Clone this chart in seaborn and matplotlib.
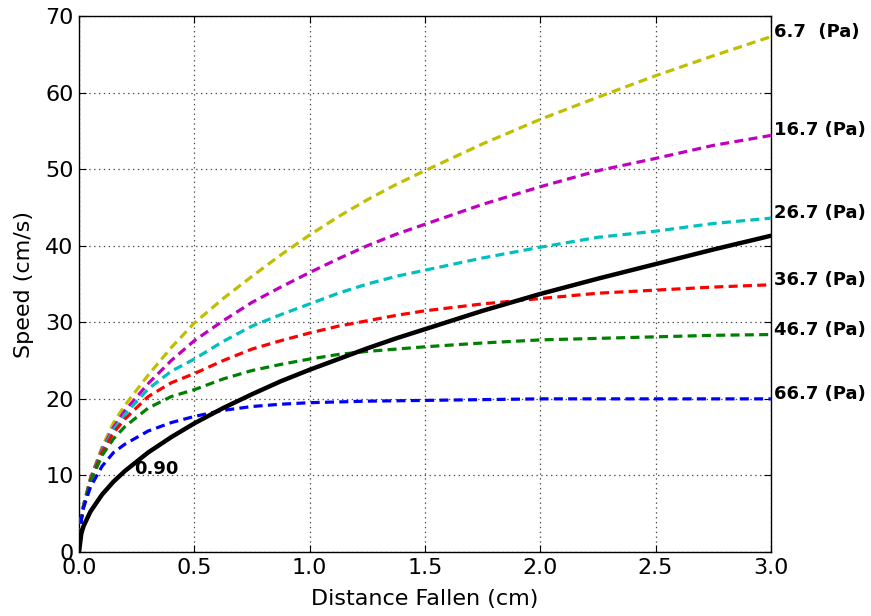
import matplotlib
matplotlib.use("Agg")
import matplotlib.pyplot as plt
import seaborn as sns
import pandas as pd
import numpy as np

# Distance fallen (cm)
distance = [0, 0.01, 0.02, 0.05, 0.1, 0.15, 0.2, 0.3, 0.4, 0.5, 0.625, 0.75, 0.875,
            1.0, 1.125, 1.25, 1.375, 1.5, 1.75, 2.0, 2.25, 2.5, 2.75, 3.0]

# Speeds (cm/s), one list per yield stress
speed_6_7 = [0, 4.4, 6.2, 9.7, 13.7, 16.9, 19.2, 23.1, 26.7, 29.9, 33.1, 36.0, 38.8,
             41.4, 43.8, 46.0, 48.0, 49.8, 53.3, 56.5, 59.4, 62.2, 64.8, 67.3]
speed_16_7 = [0, 4.3, 6.1, 9.6, 13.4, 16.3, 18.5, 22.0, 25.0, 27.6, 30.2, 32.6, 34.6,
              36.5, 38.3, 40.0, 41.5, 42.8, 45.4, 47.7, 49.8, 51.4, 53.1, 54.4]
speed_26_7 = [0, 4.3, 6.1, 9.5, 13.2, 16.0, 18.0, 21.3, 23.6, 25.2, 27.5, 29.5, 31.0,
              32.4, 33.8, 35.0, 36.0, 36.8, 38.4, 39.8, 41.1, 41.9, 42.9, 43.6]
speed_36_7 = [0, 4.3, 6.0, 9.4, 13.0, 15.6, 17.4, 20.3, 22.1, 23.3, 25.0, 26.5, 27.6,
              28.6, 29.5, 30.2, 30.9, 31.5, 32.4, 33.1, 33.8, 34.2, 34.6, 34.9]
speed_46_7 = [0, 4.3, 6.0, 9.2, 12.6, 14.8, 16.4, 18.8, 20.3, 21.2, 22.6, 23.7, 24.5,
              25.2, 25.8, 26.2, 26.5, 26.8, 27.3, 27.7, 27.9, 28.1, 28.3, 28.4]
speed_66_7 = [0, 4.2, 5.8, 8.5, 11.2, 13.0, 14.1, 15.8, 16.9, 17.7, 18.5, 19.0, 19.3,
              19.5, 19.6, 19.7, 19.75, 19.8, 19.9, 20.0, 20.0, 20.0, 20.0, 20.0]
speed_newtonian = [0, 2.4, 3.4, 5.3, 7.5, 9.2, 10.6, 13.0, 15.0, 16.8, 18.8, 20.6, 22.3,
                   23.8, 25.2, 26.6, 27.9, 29.1, 31.5, 33.7, 35.7, 37.6, 39.5, 41.3]

series_labels = ["6.7  (Pa)", "16.7 (Pa)", "26.7 (Pa)", "36.7 (Pa)", "46.7 (Pa)", "66.7 (Pa)"]
series_values = [speed_6_7, speed_16_7, speed_26_7, speed_36_7, speed_46_7, speed_66_7]
series_colors = [(0.75, 0.75, 0), (0.75, 0, 0.75), (0, 0.75, 0.75), (1, 0, 0),
                 (0, 0.5, 0), (0, 0, 1)]
black_label = "0.90"

plt.rcParams["lines.scale_dashes"] = False
plt.rcParams["lines.dashed_pattern"] = [6.5, 3.8]
plt.rcParams["font.family"] = ["DejaVu Sans"]

fig = plt.figure(figsize=(8.71, 6.16), dpi=100)
ax = fig.add_axes([0.0907, 0.1039, 0.885 - 0.0907, 0.974 - 0.1039])

rows = []
for lab, vals in zip(series_labels, series_values):
    for d, v in zip(distance, vals):
        rows.append({"distance": d, "speed": v, "series": lab})
df = pd.DataFrame(rows)

for lab, col in zip(series_labels, series_colors):
    sub = df[df["series"] == lab]
    sns.lineplot(data=sub, x="distance", y="speed", color=col, lw=2.3,
                 linestyle="--", ax=ax, legend=False, zorder=3)
    ax.text(3.012, sub["speed"].iloc[-1], lab, fontsize=13, fontweight="bold",
            ha="left", va="baseline", clip_on=False)

sns.lineplot(x=distance, y=speed_newtonian, color="k", lw=3.2, ax=ax,
             legend=False, zorder=4)
ax.text(0.24, 10.8, black_label, fontsize=13, fontweight="bold", ha="left",
        va="center")

ax.set_xlim(0, 3.0)
ax.set_ylim(0, 70)
ax.set_xticks(np.arange(0, 3.01, 0.5))
ax.set_xticklabels([f"{t:.1f}" for t in np.arange(0, 3.01, 0.5)])
ax.set_yticks(range(0, 71, 10))
ax.tick_params(direction="in", top=True, right=True, labelsize=16, length=5,
               width=0.8, pad=4)
ax.grid(True, color="0.3", linestyle=(0, (1, 2.5)), linewidth=0.9)
ax.set_axisbelow(True)
for s in ax.spines.values():
    s.set_color("k")
    s.set_linewidth(1.0)
ax.set_xlabel("Distance Fallen (cm)", fontsize=16, labelpad=8)
ax.set_ylabel("Speed (cm/s)", fontsize=16, labelpad=8)

fig.savefig("out.png", dpi=100)
